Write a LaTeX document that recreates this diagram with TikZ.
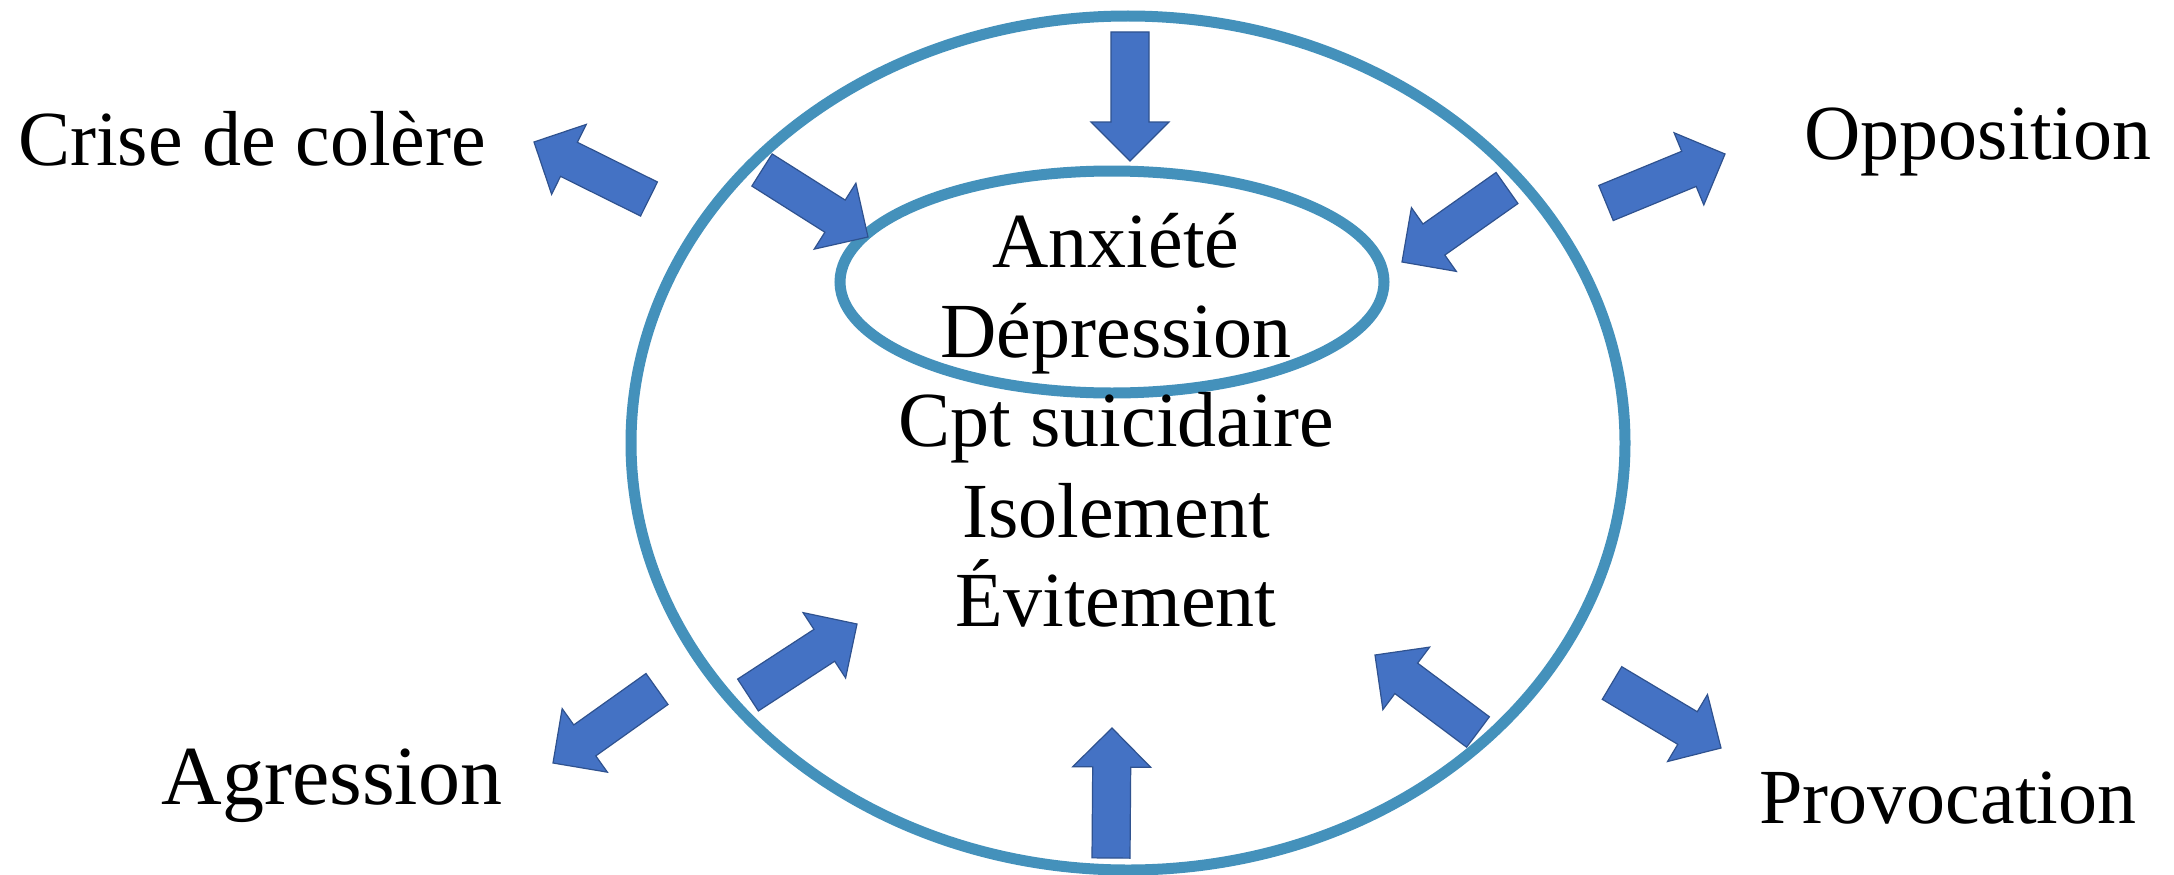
\documentclass[tikz,border=0pt]{standalone}
\usepackage{fontspec}
\setmainfont{Liberation Serif}
\usetikzlibrary{calc}
\definecolor{ringblue}{RGB}{68,145,187}
\definecolor{arrfill}{RGB}{68,114,196}
\definecolor{arrline}{RGB}{47,82,143}
\tikzset{
  ring/.style={draw=ringblue, line width=11pt},
  blockarr/.style={fill=arrfill, draw=arrline, line width=1.2pt, line join=miter},
  lbl/.style={font=\fontsize{78}{90}\selectfont, inner sep=0pt, anchor=base},
  biglbl/.style={font=\fontsize{84}{96}\selectfont, inner sep=0pt, anchor=base}
}
\newcommand{\blockarrow}[3]{%
  \coordinate (#3h) at ($(#2)!39pt!(#1)$);
  \path[blockarr] ($(#1)!19pt!90:(#2)$) -- ($(#3h)!19pt!90:(#2)$) -- ($(#3h)!39pt!90:(#2)$)
    -- (#2) -- ($(#3h)!39pt!-90:(#2)$) -- ($(#3h)!19pt!-90:(#2)$) -- ($(#1)!19pt!-90:(#2)$) -- cycle;
}
\begin{document}
\begin{tikzpicture}[x=1pt, y=-1pt]
\useasboundingbox[fill=white] (0,0) rectangle (2174,875);
% inner ellipse
\draw[ring] (1112,282) ellipse [x radius=272pt, y radius=111pt];
% arrow end points
\coordinate (a1t) at (649,199);  \coordinate (a1p) at (534,142);
\coordinate (a2t) at (762,170);  \coordinate (a2p) at (868,237);
\coordinate (a3t) at (1130,32);  \coordinate (a3p) at (1130,161);
\coordinate (a4t) at (1507,188); \coordinate (a4p) at (1402,262);
\coordinate (a5t) at (1606,203); \coordinate (a5p) at (1725,154);
\coordinate (a6t) at (657,689);  \coordinate (a6p) at (553,763);
\coordinate (a7t) at (748,695);  \coordinate (a7p) at (857,624);
\coordinate (a8t) at (1111,858); \coordinate (a8p) at (1112,728);
\coordinate (a9t) at (1478,732); \coordinate (a9p) at (1375,655);
\coordinate (a10t) at (1612,683); \coordinate (a10p) at (1721,748);
\blockarrow{a1t}{a1p}{a1}
\blockarrow{a2t}{a2p}{a2}
\blockarrow{a3t}{a3p}{a3}
\blockarrow{a4t}{a4p}{a4}
\blockarrow{a5t}{a5p}{a5}
\blockarrow{a6t}{a6p}{a6}
\blockarrow{a7t}{a7p}{a7}
\blockarrow{a8t}{a8p}{a8}
\blockarrow{a9t}{a9p}{a9}
\blockarrow{a10t}{a10p}{a10}
% outer ellipse
\draw[ring] (1128,443) ellipse [x radius=497pt, y radius=427pt];
% central texts
\node[lbl] (anx) at (1116,267) {Anxiété};
\node[lbl] (dep) at (1116,357) {Dépression};
\node[lbl] (cpt) at (1116,446) {Cpt suicidaire};
\node[lbl] (iso) at (1116,537) {Isolement};
\node[lbl] (evi) at (1116,626) {Évitement};
% outer labels
\node[lbl] (crise) at (252,165) {Crise de colère};
\node[lbl] (oppo) at (1978,159) {Opposition};
\node[biglbl] (agr) at (332,804) {Agression};
\node[lbl] (provo) at (1948,823) {Provocation};
\end{tikzpicture}
\end{document}
